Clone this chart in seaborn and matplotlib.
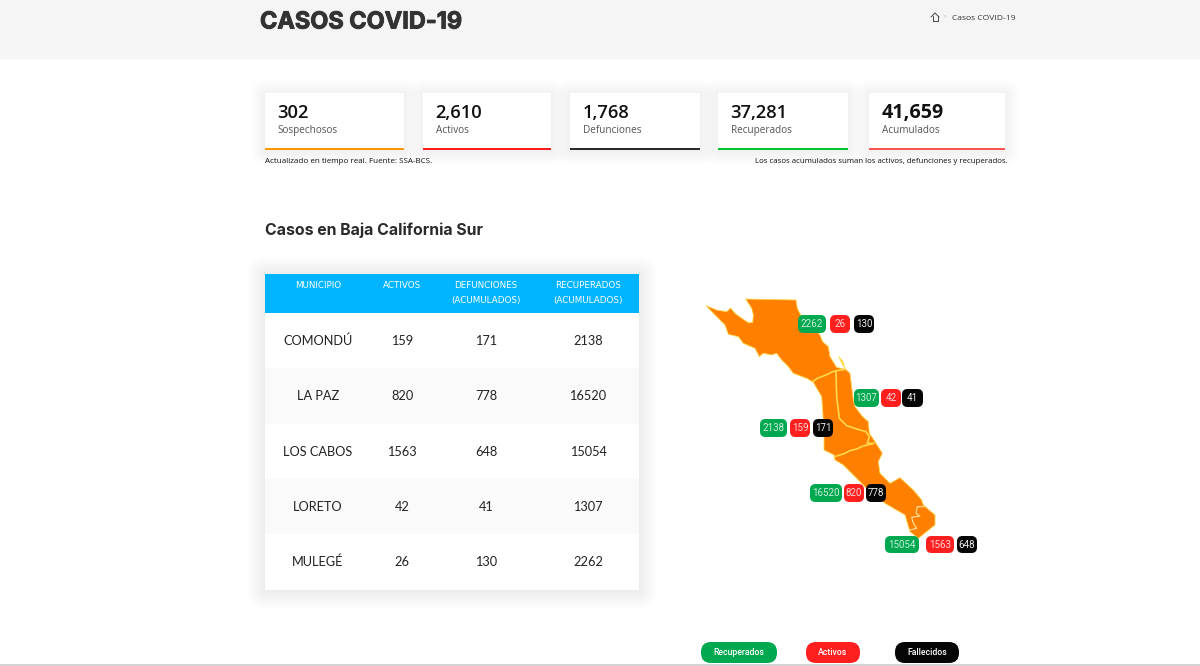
"""plot.py - rebuild of the Baja California Sur COVID-19 dashboard screenshot."""
import matplotlib
matplotlib.use('Agg')
import matplotlib.pyplot as plt
import matplotlib.patheffects as pe
from matplotlib.patches import FancyBboxPatch, Polygon, Rectangle
import pandas as pd
import seaborn as sns

OUTPUT_PATH = "out.png"

# Summary cards
CARD_VALUES = ["302", "2,610", "1,768", "37,281", "41,659"]
CARD_LABELS = ["Sospechosos", "Activos", "Defunciones", "Recuperados", "Acumulados"]
CARD_COLORS = ["#ff9800", "#ff1a1a", "#2b2b2b", "#00c431", "#f9574f"]
CARD_LEFT = [265, 423, 570, 718, 869]
CARD_RIGHT = [404, 551, 700, 848, 1005]

# Table
MUNICIPIOS = ["COMONDÚ", "LA PAZ", "LOS CABOS", "LORETO", "MULEGÉ"]
ACTIVOS = [159, 820, 1563, 42, 26]
DEFUNCIONES = [171, 778, 648, 41, 130]
RECUPERADOS = [2138, 16520, 15054, 1307, 2262]
ROW_EDGES = [313, 368, 424, 479, 534, 590]
COL_CENTERS = [318, 402, 486, 588]

# Pills on the map, one row per municipio: y range then left/right of each pill
PILL_Y = [(419, 437), (484, 502), (536, 553), (389, 407), (315, 333)]
PILL_X = [
    [(760, 787), (790, 810), (813, 833)],
    [(810, 842), (844, 864), (866, 886)],
    [(885, 919), (926, 954), (957, 977)],
    [(854, 879), (881, 901), (902, 923)],
    [(798, 826), (830, 850), (854, 874)],
]
PILL_COLORS = ["#00a850", "#ff1f1f", "#050505"]
PILL_TEXT = ["#cdeedb", "#ffd6d6", "#eeeeee"]

LEGEND_LABELS = ["Recuperados", "Activos", "Fallecidos"]
LEGEND_X = [(701, 777), (806, 860), (895, 959)]

OUTLINE_X = [78, 110, 140, 152, 165, 190, 205, 218, 220, 215, 197, 348, 352, 362, 395, 420, 428,
             445, 450, 470, 497, 510, 520, 525, 548, 565, 568, 585, 607, 595, 600, 630, 660,
             700, 725, 730, 765, 765, 715, 690, 675, 615, 560, 490, 465, 462, 432,
             432, 428, 425, 400, 380, 340, 325, 305, 290, 275, 250, 238, 225, 190, 175, 145, 135, 115]
OUTLINE_Y = [77, 90, 95, 84, 100, 118, 128, 128, 105, 85, 57, 60, 85, 105, 135, 165, 185,
             200, 230, 262, 268, 280, 360, 380, 410, 425, 460, 485, 520, 545, 580, 610, 593,
             630, 660, 675, 705, 735, 775, 755, 705, 670, 625, 555, 540, 525, 510,
             460, 390, 350, 307, 295, 280, 260, 240, 220, 225, 220, 230, 205, 190, 170, 163, 135, 115]
ISLAND_X = [475, 490, 495, 485]
ISLAND_Y = [228, 245, 265, 250]
BORDERS = [
    ([398, 412, 425, 445, 455, 470, 497], [305, 295, 290, 282, 276, 272, 268]),
    ([468, 470, 478, 500, 530, 558, 568, 562, 582], [275, 350, 415, 437, 447, 455, 470, 490, 490]),
    ([463, 480, 495, 510, 530, 550, 582], [530, 525, 520, 512, 507, 498, 490]),
    ([732, 712, 708, 720, 695, 700, 710, 690], [680, 680, 700, 708, 712, 730, 745, 750]),
]
MAP_ORANGE = "#ff7f00"
MAP_YELLOW = "#ffd84d"

SANS = ["Open Sans", "DejaVu Sans"]
HEAD = ["Inter", "DejaVu Sans"]
BODY = ["Lato", "DejaVu Sans"]


def crop_x(values):
    return [680 + v / 3 for v in values]


def crop_y(values):
    return [280 + v / 3 for v in values]


def soft_shadow(ax, x0, y0, x1, y1, spread=14, alpha=0.0028, offset=1):
    # Stack of growing translucent boxes, good enough for a CSS box-shadow
    for s in range(spread, 0, -1):
        ax.add_patch(FancyBboxPatch((x0 - s, y0 - s + offset), x1 - x0 + 2 * s, y1 - y0 + 2 * s,
                                    boxstyle=f"round,pad=0,rounding_size={s}",
                                    fc="black", ec="none", alpha=alpha, zorder=1))


def pill(ax, x0, x1, y0, y1, color, radius=5.5):
    ax.add_patch(FancyBboxPatch((x0, y0), x1 - x0, y1 - y0,
                                boxstyle=f"round,pad=0,rounding_size={radius}",
                                fc=color, ec="none", zorder=5))


sns.set_theme(style="white")
plt.rcParams['font.family'] = SANS

fig = plt.figure(figsize=(12, 6.66), dpi=100, facecolor="white")
ax = fig.add_axes([0, 0, 1, 1])
ax.set_xlim(0, 1200)
ax.set_ylim(666, 0)
ax.axis("off")

# Page header
ax.add_patch(Rectangle((0, 0), 1200, 58.5, fc="#f5f5f5", ec="none", zorder=0))
ax.add_patch(Rectangle((0, 664), 1200, 2, fc="#d4d4d4", ec="none", zorder=0))
title = ax.text(260, 28.5, "CASOS COVID-19", family=HEAD, fontsize=16.9, fontweight="bold",
                color="#333333", va="baseline", ha="left")
title.set_path_effects([pe.withStroke(linewidth=0.7, foreground="#333333")])
ax.text(952, 20, "Casos COVID-19", family=SANS, fontsize=6.1, color="#333333", va="baseline")
ax.text(945, 17, ">", family=SANS, fontsize=5, color="#bbbbbb", va="center", ha="center")
ax.plot([931, 935, 939], [17, 13, 17], color="#444444", lw=0.7)
ax.plot([932.5, 932.5, 937.5, 937.5], [16, 21, 21, 16], color="#444444", lw=0.7)

# Summary cards
for i, value in enumerate(CARD_VALUES):
    x0, x1 = CARD_LEFT[i], CARD_RIGHT[i]
    soft_shadow(ax, x0, 93, x1, 150)
    ax.add_patch(Rectangle((x0, 93), x1 - x0, 57, fc="white", ec="none", zorder=2))
    ax.add_patch(Rectangle((x0, 148), x1 - x0, 2, fc=CARD_COLORS[i], ec="none", zorder=3))
    ax.text(x0 + 12.5, 118, value, family=SANS, fontsize=14.2 if i == 4 else 13.2,
            color="#111111", va="baseline", fontweight="bold" if i == 4 else "semibold", zorder=4)
    ax.text(x0 + 12.5, 133, CARD_LABELS[i], family=SANS, fontsize=7.2, color="#555555",
            va="baseline", zorder=4)

ax.text(265, 163, "Actualizado en tiempo real. Fuente: SSA-BCS.", family=SANS, fontsize=5.8,
        color="#111111", va="baseline")
ax.text(1008, 163, "Los casos acumulados suman los activos, defunciones y recuperados.",
        family=SANS, fontsize=5.65, color="#111111", va="baseline", ha="right")

ax.text(265, 235, "Casos en Baja California Sur", family=HEAD, fontsize=11.4, fontweight="bold",
        color="#2a2a2a", va="baseline")

# Table
soft_shadow(ax, 265, 274, 639, 590, spread=18)
ax.add_patch(Rectangle((265, 274), 374, 39, fc="#00b4ff", ec="none", zorder=2))
headers = ["MUNICIPIO", "ACTIVOS", "DEFUNCIONES\n(ACUMULADOS)", "RECUPERADOS\n(ACUMULADOS)"]
for cx, header in zip(COL_CENTERS, headers):
    for j, line in enumerate(header.split("\n")):
        ax.text(cx, 288 + 15.5 * j, line, family=["DejaVu Sans"], fontsize=6.3, color="white",
                ha="center", va="baseline", zorder=3)

rows = pd.DataFrame({"municipio": MUNICIPIOS, "activos": ACTIVOS,
                     "defunciones": DEFUNCIONES, "recuperados": RECUPERADOS})
for i, row in rows.iterrows():
    top, bottom = ROW_EDGES[i], ROW_EDGES[i + 1]
    shade = "white" if i % 2 == 0 else "#fafafa"
    ax.add_patch(Rectangle((265, top), 374, bottom - top, fc=shade, ec="none", zorder=2))
    y = (top + bottom) / 2 + 4.5
    for cx, key in zip(COL_CENTERS, rows.columns):
        ax.text(cx, y, str(row[key]), family=BODY, fontsize=9.2, color="#222222",
                ha="center", va="baseline", zorder=3)

# Map
ax.add_patch(Polygon(list(zip(crop_x(OUTLINE_X), crop_y(OUTLINE_Y))), closed=True,
                     fc=MAP_ORANGE, ec=MAP_YELLOW, lw=0.6, zorder=2))
ax.add_patch(Polygon(list(zip(crop_x(ISLAND_X), crop_y(ISLAND_Y))), closed=True,
                     fc=MAP_YELLOW, ec=MAP_YELLOW, lw=0.4, zorder=2))
for k, (bx, by) in enumerate(BORDERS):
    border = pd.DataFrame({"x": crop_x(bx), "y": crop_y(by)})
    sns.lineplot(data=border, x="x", y="y", sort=False, estimator=None, ax=ax,
                 color=MAP_YELLOW if k < 3 else "#ffe6a0", lw=1.2 if k < 3 else 0.8,
                 zorder=3, legend=False)

for i in range(len(MUNICIPIOS)):
    y0, y1 = PILL_Y[i]
    values = [RECUPERADOS[i], ACTIVOS[i], DEFUNCIONES[i]]
    for (x0, x1), value, color, tc in zip(PILL_X[i], values, PILL_COLORS, PILL_TEXT):
        pill(ax, x0, x1, y0, y1, color)
        ax.text((x0 + x1) / 2, (y0 + y1) / 2, str(value), family=["Roboto", "DejaVu Sans"],
                fontsize=7, color=tc, ha="center", va="center", zorder=6)

# Legend pills under the map
for (x0, x1), label, color in zip(LEGEND_X, LEGEND_LABELS, PILL_COLORS):
    pill(ax, x0, x1, 642, 663, color, radius=10)
    ax.text((x0 + x1) / 2, 652.5, label, family=["Roboto", "DejaVu Sans"], fontsize=6.2,
            fontweight="medium", color="white", ha="center", va="center", zorder=6)

ax.set_xlim(0, 1200)
ax.set_ylim(666, 0)
fig.savefig(OUTPUT_PATH, dpi=100)
plt.close(fig)
